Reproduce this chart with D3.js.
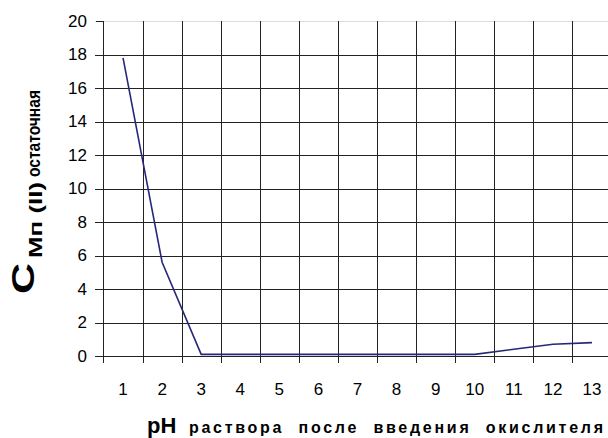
<!DOCTYPE html>
<html>
<head>
<meta charset="utf-8">
<script src="https://cdn.jsdelivr.net/npm/d3@7"></script>
<style>
  body { margin: 0; background: #fff; }
  text { font-family: "Liberation Sans", Arial, sans-serif; }
</style>
</head>
<body>
<div id="chart"></div>
<script>
const categories = ['1','2','3','4','5','6','7','8','9','10','11','12','13']
const values = [17.8, 5.6, 0.1, 0.1, 0.1, 0.1, 0.1, 0.1, 0.1, 0.1, 0.4, 0.7, 0.8]
const yTicks = [0, 2, 4, 6, 8, 10, 12, 14, 16, 18, 20]
const xTitle = 'раствора  после  введения  окислителя'

const width = 608, height = 438

const svg = d3.select('#chart').append('svg')
  .attr('width', width)
  .attr('height', height)
  .attr('viewBox', '0,0,' + width + ',' + height)

const x = d3.scaleBand()
  .domain(categories)
  .range([103.5, 611.5])
  .padding(0)

const y = d3.scaleLinear()
  .domain([0, 20])
  .range([356, 21])

// horizontal grid
svg.append('g')
  .attr('shape-rendering', 'crispEdges')
  .selectAll('line').data(yTicks).enter().append('line')
    .attr('x1', 95).attr('x2', width)
    .attr('y1', d => Math.round(y(d)) + 0.5)
    .attr('y2', d => Math.round(y(d)) + 0.5)
    .attr('stroke', d => d === 20 ? '#dedede' : '#222')
    .attr('stroke-width', 1)

// vertical grid at category boundaries
const bounds = categories.map(c => x(c)).concat([x(categories[categories.length - 1]) + x.step()])
svg.append('g')
  .attr('shape-rendering', 'crispEdges')
  .selectAll('line').data(bounds).enter().append('line')
    .attr('x1', d => Math.round(d) + 0.5)
    .attr('x2', d => Math.round(d) + 0.5)
    .attr('y1', 21)
    .attr('y2', 363)
    .attr('stroke', '#222')
    .attr('stroke-width', 1)

// y axis ticks and labels
const yAxis = g => g
  .attr('transform', 'translate(103.5,0)')
  .call(d3.axisLeft(y).tickValues(yTicks).tickSize(8).tickPadding(8.5))
  .call(g => g.select('.domain').remove())
  .call(g => g.selectAll('line').attr('stroke', '#222').attr('shape-rendering', 'crispEdges'))
  .call(g => g.selectAll('text')
    .attr('font-size', 17)
    .attr('font-family', '"Liberation Sans", Arial, sans-serif')
    .attr('fill', '#000'))

svg.append('g').call(yAxis)

// x axis labels
const xAxis = g => g
  .attr('transform', 'translate(0,356)')
  .call(d3.axisBottom(x).tickSize(0).tickPadding(27))
  .call(g => g.select('.domain').remove())
  .call(g => g.selectAll('text')
    .attr('font-size', 17)
    .attr('font-family', '"Liberation Sans", Arial, sans-serif')
    .attr('fill', '#000'))

svg.append('g').call(xAxis)

// data line
const line = d3.line()
  .x((d, i) => x(categories[i]) + x.bandwidth() / 2)
  .y(d => y(d))

svg.append('path')
  .datum(values)
  .attr('fill', 'none')
  .attr('stroke', '#27277a')
  .attr('stroke-width', 1.6)
  .attr('d', line)

// y title
svg.append('text')
  .attr('transform', 'translate(34,294) rotate(-90)')
  .attr('font-size', 31).attr('font-weight', 'bold')
  .attr('textLength', 31).attr('lengthAdjust', 'spacingAndGlyphs')
  .text('C')
svg.append('text')
  .attr('transform', 'translate(42,258) rotate(-90)')
  .attr('font-size', 19).attr('font-weight', 'bold')
  .attr('textLength', 76).attr('lengthAdjust', 'spacingAndGlyphs')
  .text('Mп (II)')
svg.append('text')
  .attr('transform', 'translate(40,177) rotate(-90)')
  .attr('font-size', 19).attr('font-weight', 'bold')
  .attr('textLength', 87).attr('lengthAdjust', 'spacingAndGlyphs')
  .text('остаточная')

// x title
svg.append('text')
  .attr('x', 147).attr('y', 433)
  .attr('font-size', 22).attr('font-weight', 'bold')
  .text('pH')
svg.append('text')
  .attr('x', 189).attr('y', 433)
  .attr('font-size', 16).attr('font-weight', 'bold')
  .style('white-space', 'pre')
  .attr('textLength', 414).attr('lengthAdjust', 'spacing')
  .text(xTitle)
</script>
</body>
</html>
